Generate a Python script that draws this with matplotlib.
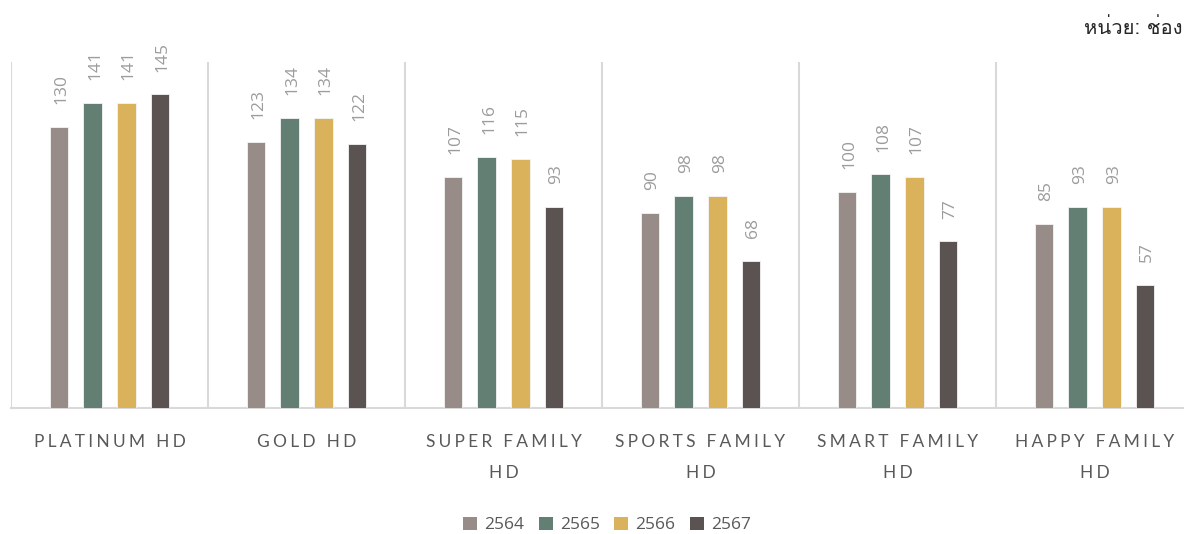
import numpy as np
import matplotlib
matplotlib.use('Agg')
import matplotlib.pyplot as plt
from matplotlib import font_manager
from matplotlib.ft2font import FT2Font
from matplotlib.patches import Patch

# packages and yearly channel counts
packages = ['PLATINUM HD', 'GOLD HD', 'SUPER FAMILY\nHD', 'SPORTS FAMILY\nHD',
            'SMART FAMILY\nHD', 'HAPPY FAMILY\nHD']
years = ['2564', '2565', '2566', '2567']
ch_2564 = [130, 123, 107, 90, 100, 85]
ch_2565 = [141, 134, 116, 98, 108, 93]
ch_2566 = [141, 134, 115, 98, 107, 93]
ch_2567 = [145, 122, 93, 68, 77, 57]
colors = ['#988c89', '#637f73', '#dab25c', '#5b5252']


def thai_font():
    # pick an installed regular face that covers Thai
    found = []
    for f in font_manager.fontManager.ttflist:
        try:
            if 0x0E2B in FT2Font(f.fname).get_charmap():
                found.append(f)
        except Exception:
            pass
    for f in found:
        if f.weight in (400, 'normal', 'regular') and f.style == 'normal':
            return font_manager.FontProperties(fname=f.fname)
    if found:
        return font_manager.FontProperties(fname=found[0].fname)
    return font_manager.FontProperties(family='DejaVu Sans')


def spaced(s):
    # letter-spaced caps for the category labels
    return '\n'.join('\u2009\u200a \u200a\u2009'.join('\u2009\u200a'.join(w) for w in line.split(' '))
                     for line in s.split('\n'))


fig = plt.figure(figsize=(11.84, 5.34), dpi=100)
ax = fig.add_axes([11 / 1184, 1 - 408 / 534, 1182 / 1184, 346 / 534])

x = np.arange(len(packages))
offsets = [-0.256, -0.086, 0.086, 0.256]
series = [ch_2564, ch_2565, ch_2566, ch_2567]
for vals, off, c in zip(series, offsets, colors):
    bars = ax.bar(x + off, vals, width=0.092, color=c, edgecolor='#f4f4f4', linewidth=0.6, zorder=3)
    for b, v in zip(bars, vals):
        ax.annotate(str(v), (b.get_x() + b.get_width() / 2 + 0.012, v), xytext=(0, 16.5),
                    textcoords='offset points', rotation=90, ha='center', va='bottom',
                    fontsize=12.5, color='#9c9c9c', family=['Open Sans', 'DejaVu Sans'])

ax.set_xlim(-0.5, len(packages) - 0.5)
ax.set_ylim(0, 160)
ax.set_yticks([])
ax.set_xticks(x)
ax.set_xticklabels([spaced(p) for p in packages], fontsize=12.5, color='#595959',
                   family=['Lato', 'DejaVu Sans'], linespacing=2.1)
ax.tick_params(axis='x', length=0, pad=19)
ax.set_xticks(np.arange(len(packages) + 1) - 0.5, minor=True)
ax.tick_params(axis='x', which='minor', length=0)
ax.grid(axis='x', which='minor', color='#d9d9d9', linewidth=1.5, zorder=0)
for s in ['top', 'right', 'left']:
    ax.spines[s].set_visible(False)
ax.spines['bottom'].set_color('#d9d9d9')
ax.spines['bottom'].set_linewidth(1.5)

handles = [Patch(facecolor=c, edgecolor='none') for c in colors]
fig.legend(handles, years, loc='center', bbox_to_anchor=(607 / 1184, 1 - 525 / 534), ncol=4,
           frameon=False, handlelength=0.8, handleheight=0.8,
           handletextpad=0.4, columnspacing=0.85, labelcolor='#595959',
           prop={'family': ['Open Sans', 'DejaVu Sans'], 'size': 12.5})

thai = thai_font()
thai.set_size(14.5)
fig.text(1182 / 1184, 1 - 28 / 534, 'หน่วย: ช่อง', ha='right', va='center',
         color='#262626', fontproperties=thai)

fig.savefig('out.png', dpi=100)
